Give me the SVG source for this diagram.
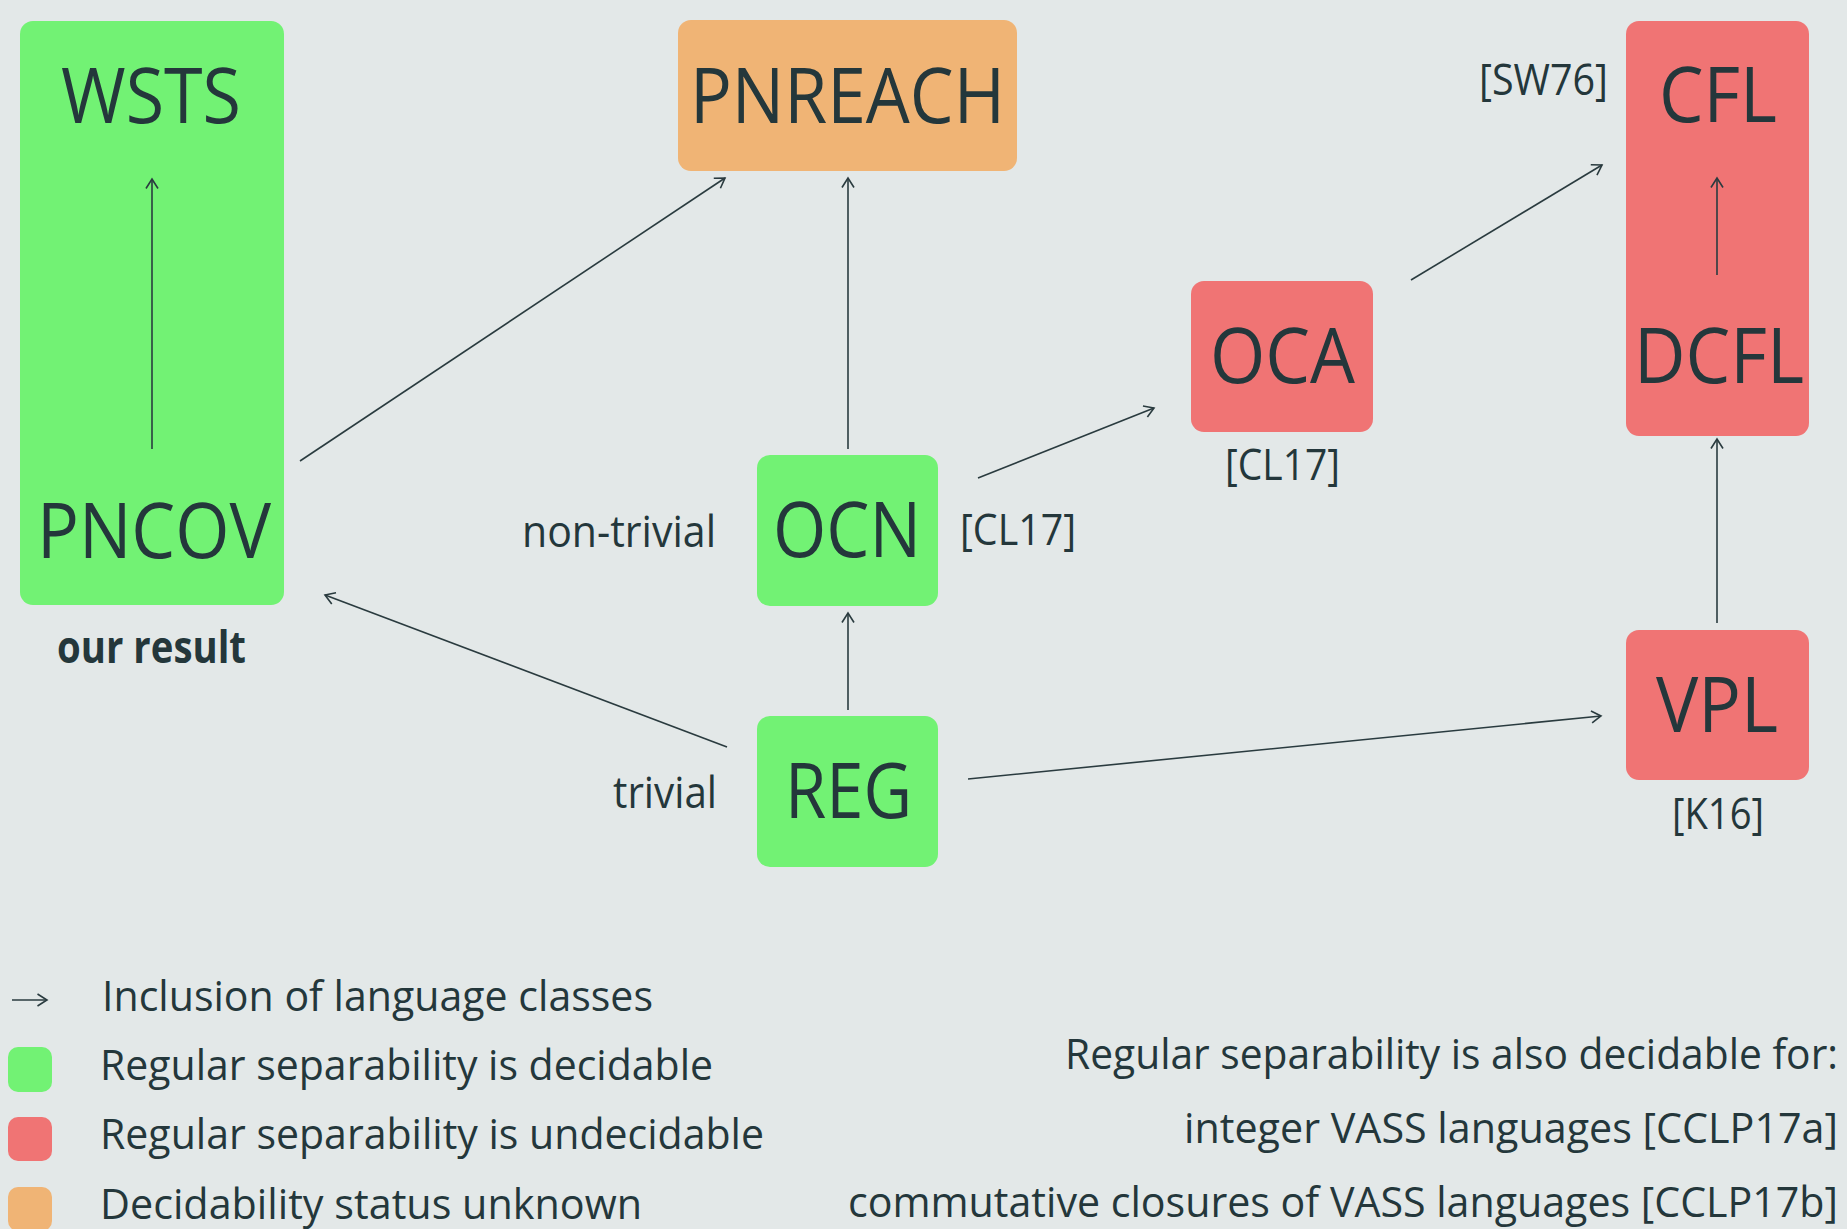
<svg xmlns="http://www.w3.org/2000/svg" width="1847" height="1229" viewBox="0 0 1847 1229">
<defs>
<style>
.bg{fill:#e3e8e8}
.g{fill:#72f274}
.r{fill:#f07474}
.o{fill:#f0b475}
text{font-family:"Open Sans","Noto Sans","Liberation Sans",sans-serif;fill:#24373b}
.big{font-size:76px}
.lbl{font-size:44px}
.leg{font-size:42px}
.bold{font-weight:bold}
.c{stroke:#2a3b3f;stroke-width:1.6;fill:none;marker-end:url(#ah)}
</style>
<marker id="ah" markerUnits="userSpaceOnUse" viewBox="-11 -7 13 14" refX="0" refY="0" markerWidth="13" markerHeight="14" orient="auto">
<path d="M-9.5,-6 L0,0 L-9.5,6" fill="none" stroke="#2a3b3f" stroke-width="1.6"/>
</marker>
</defs>
<rect class="bg" x="0" y="0" width="1847" height="1229"/>

<g id="node-wsts-pncov">
<rect class="g" x="20" y="21" width="264" height="584" rx="13"/>
<text class="big" x="61" y="123" textLength="180" lengthAdjust="spacingAndGlyphs">WSTS</text>
<text class="big" x="37" y="558" textLength="234" lengthAdjust="spacingAndGlyphs">PNCOV</text>
<text class="lbl bold" x="57" y="663" textLength="189" lengthAdjust="spacingAndGlyphs">our result</text>
</g>
<g id="node-pnreach">
<rect class="o" x="678" y="20" width="339" height="151" rx="13"/>
<text class="big" x="690" y="123" textLength="315" lengthAdjust="spacingAndGlyphs">PNREACH</text>
</g>
<g id="node-ocn">
<rect class="g" x="757" y="455" width="181" height="151" rx="13"/>
<text class="big" x="773" y="557" textLength="148" lengthAdjust="spacingAndGlyphs">OCN</text>
<text class="lbl" x="522" y="547" textLength="194" lengthAdjust="spacingAndGlyphs">non-trivial</text>
<text class="lbl" x="960" y="545" textLength="116" lengthAdjust="spacingAndGlyphs">[CL17]</text>
</g>
<g id="node-reg">
<rect class="g" x="757" y="716" width="181" height="151" rx="13"/>
<text class="big" x="785" y="818" textLength="127" lengthAdjust="spacingAndGlyphs">REG</text>
<text class="lbl" x="613" y="808" textLength="104" lengthAdjust="spacingAndGlyphs">trivial</text>
</g>
<g id="node-oca">
<rect class="r" x="1191" y="281" width="182" height="151" rx="13"/>
<text class="big" x="1210" y="383" textLength="145" lengthAdjust="spacingAndGlyphs">OCA</text>
<text class="lbl" x="1225" y="480" textLength="115" lengthAdjust="spacingAndGlyphs">[CL17]</text>
</g>
<g id="node-cfl-dcfl">
<rect class="r" x="1626" y="21" width="183" height="415" rx="13"/>
<text class="big" x="1659" y="122" textLength="118" lengthAdjust="spacingAndGlyphs">CFL</text>
<text class="big" x="1634" y="383" textLength="170" lengthAdjust="spacingAndGlyphs">DCFL</text>
<text class="lbl" x="1479" y="95" textLength="129" lengthAdjust="spacingAndGlyphs">[SW76]</text>
</g>
<g id="node-vpl">
<rect class="r" x="1626" y="630" width="183" height="150" rx="13"/>
<text class="big" x="1656" y="732" textLength="122" lengthAdjust="spacingAndGlyphs">VPL</text>
<text class="lbl" x="1672" y="829" textLength="92" lengthAdjust="spacingAndGlyphs">[K16]</text>
</g>

<g id="connectors">
<line class="c" x1="152" y1="449" x2="152" y2="179"/>
<line class="c" x1="1717" y1="275" x2="1717" y2="178"/>
<line class="c" x1="300" y1="461" x2="725" y2="178"/>
<line class="c" x1="848" y1="449" x2="848" y2="178"/>
<line class="c" x1="848" y1="710" x2="848" y2="613"/>
<line class="c" x1="727" y1="747" x2="325" y2="595"/>
<line class="c" x1="978" y1="478" x2="1154" y2="408"/>
<line class="c" x1="1411" y1="280" x2="1602" y2="165"/>
<line class="c" x1="968" y1="779" x2="1601" y2="716"/>
<line class="c" x1="1717" y1="623" x2="1717" y2="439"/>
</g>

<g id="legend">
<line class="c" x1="12" y1="1000" x2="47" y2="1000"/>
<text class="leg" x="102" y="1011" textLength="551" lengthAdjust="spacingAndGlyphs">Inclusion of language classes</text>
<rect class="g" x="8" y="1047" width="44" height="45" rx="10"/>
<text class="leg" x="100" y="1080" textLength="613" lengthAdjust="spacingAndGlyphs">Regular separability is decidable</text>
<rect class="r" x="8" y="1117" width="44" height="44" rx="10"/>
<text class="leg" x="100" y="1149" textLength="664" lengthAdjust="spacingAndGlyphs">Regular separability is undecidable</text>
<rect class="o" x="8" y="1187" width="44" height="44" rx="10"/>
<text class="leg" x="100" y="1219" textLength="542" lengthAdjust="spacingAndGlyphs">Decidability status unknown</text>
<text class="leg" x="1065" y="1069" textLength="773" lengthAdjust="spacingAndGlyphs">Regular separability is also decidable for:</text>
<text class="leg" x="1184" y="1143" textLength="654" lengthAdjust="spacingAndGlyphs">integer VASS languages [CCLP17a]</text>
<text class="leg" x="848" y="1217" textLength="990" lengthAdjust="spacingAndGlyphs">commutative closures of VASS languages [CCLP17b]</text>
</g>
</svg>
